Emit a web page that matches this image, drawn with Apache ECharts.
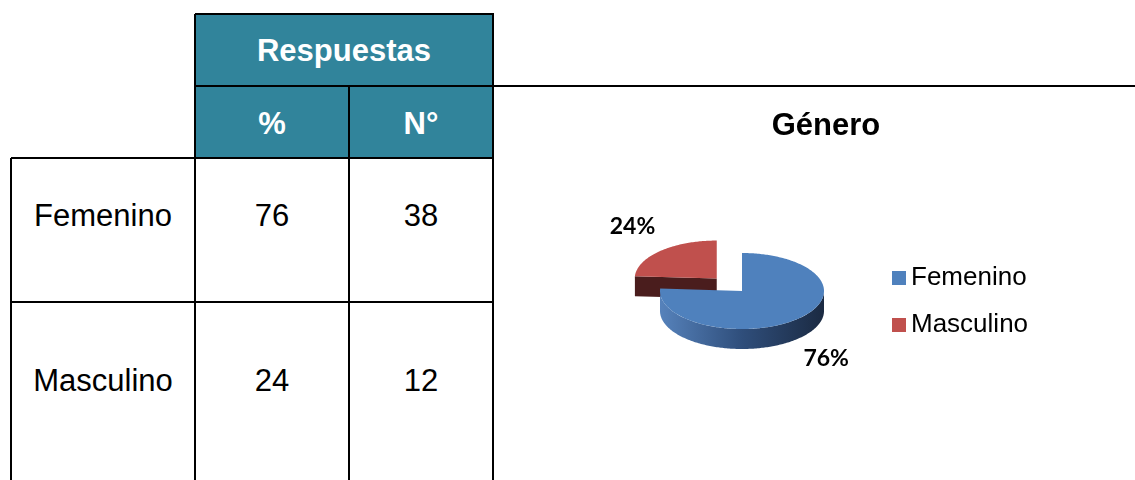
<!DOCTYPE html>
<html><head><meta charset="utf-8">
<script src="https://cdn.jsdelivr.net/npm/echarts@6/dist/echarts.min.js"></script>
<style>
html,body{margin:0;padding:0;background:#fff;width:1135px;height:480px;overflow:hidden;font-family:'Liberation Sans',Arial,sans-serif;}
#table{position:absolute;left:0;top:0;width:1135px;height:480px;}
#chart{position:absolute;left:0;top:0;width:1135px;height:480px;}
.ln{position:absolute;background:#000;}
.fill{position:absolute;background:#31849B;}
.tx{position:absolute;display:flex;align-items:center;justify-content:center;line-height:1;white-space:nowrap;font-size:31px;color:#000;}
.hd{color:#fff;font-weight:bold;}
</style></head><body>
<div id="table"></div><div id="chart"></div>
<script>
// ---- data ----
const categories = ['Femenino', 'Masculino'];
const percentValues = [76, 24];
const countValues = [38, 12];
const headerGroup = 'Respuestas';
const headerCols = ['%', 'N°'];
const chartTitle = 'Género';

// ---- table layout ----
const tbl = document.getElementById('table');
function line(x1, y1, x2, y2) {
  const d = document.createElement('div');
  d.className = 'ln';
  if (y1 === y2) { d.style.left = x1 + 'px'; d.style.top = (y1 - 1) + 'px'; d.style.width = (x2 - x1 + 1) + 'px'; d.style.height = '2px'; }
  else { d.style.left = (x1 - 1) + 'px'; d.style.top = y1 + 'px'; d.style.width = '2px'; d.style.height = (y2 - y1) + 'px'; }
  tbl.appendChild(d);
}
function box(cls, x1, y1, x2, y2, text) {
  const d = document.createElement('div');
  d.className = cls;
  d.style.left = x1 + 'px'; d.style.top = y1 + 'px';
  d.style.width = (x2 - x1) + 'px'; d.style.height = (y2 - y1) + 'px';
  if (text !== undefined) d.textContent = text;
  tbl.appendChild(d);
  return d;
}
const colX = [11, 195, 349, 493];
const hY = [14, 86, 158];
box('fill', colX[1], hY[0], colX[3], hY[2]);
// header texts
box('tx hd', colX[1], 30, colX[3], 70, headerGroup);
headerCols.forEach((t, i) => box('tx hd', colX[1 + i], 103, colX[2 + i], 143, t));
// body rows
const rowTextY = [215, 380];
categories.forEach((c, r) => {
  const yc = rowTextY[r];
  box('tx', colX[0], yc - 20, colX[1], yc + 20, c);
  box('tx', colX[1], yc - 20, colX[2], yc + 20, String(percentValues[r]));
  box('tx', colX[2], yc - 20, colX[3], yc + 20, String(countValues[r]));
});
// borders
line(colX[1], hY[0], colX[3], hY[0]);
line(colX[1], hY[1], 1135, hY[1]);
line(colX[0], hY[2], colX[3], hY[2]);
line(colX[0], 302, colX[3], 302);
line(colX[1], hY[0], colX[1], 480);
line(colX[3], hY[0], colX[3], 480);
line(colX[2], hY[1], colX[2], 480);
line(colX[0], hY[2], colX[0], 480);

// ---- pie chart (3D look) ----
const PIE = { cx: 742, cy: 291, rx: 82, ry: 38, depth: 20, explode: [0, 0.45], labelF: 1.5 };
const TOP_COLORS = ['#4F81BD', '#C0504D'];
const SIDE_STOPS = [['#5682bb', '#2f4e7b', '#1b2a42'], ['#5a2626', '#4a1d1d', '#3d1717']];
const total = percentValues.reduce((a, b) => a + b, 0);
const starts = []; { let acc = 0; percentValues.forEach(v => { starts.push(acc); acc += v; }); }
const RAD = Math.PI / 180;

function renderSlice(si) {
  return function (params, api) {
    const v = api.value(0);
    const a0 = 90 - starts[si] / total * 360;
    const a1 = a0 - v / total * 360;
    const mid = (a0 + a1) / 2 * RAD;
    const ex = PIE.explode[si];
    const ax = PIE.cx + ex * PIE.rx * Math.cos(mid);
    const ay = PIE.cy - ex * PIE.ry * Math.sin(mid);
    const P = (a, d) => [ax + PIE.rx * Math.cos(a * RAD), ay - PIE.ry * Math.sin(a * RAD) + (d || 0)];
    const sampl = (hi, lo) => { const n = Math.max(2, Math.ceil(hi - lo)); const r = []; for (let i = 0; i <= n; i++) r.push(hi - (hi - lo) * i / n); return r; };
    const zb = si === 0 ? 10 : 0;
    const st = SIDE_STOPS[si];
    const grad = () => new echarts.graphic.LinearGradient(0, 0, 1, 0, [
      { offset: 0, color: st[0] }, { offset: 0.5, color: st[1] }, { offset: 1, color: st[2] }]);
    const children = [];
    // outer rim side (front half)
    for (let k = -2; k <= 2; k++) {
      const L = -180 + 360 * k, H = 360 * k;
      const lo = Math.max(L, a1), hi = Math.min(H, a0);
      if (hi - lo > 0.01) {
        const angs = sampl(hi, lo);
        const pts = angs.map(a => P(a, 0)).concat(angs.slice().reverse().map(a => P(a, PIE.depth)));
        children.push({ type: 'polygon', shape: { points: pts }, style: { fill: grad() }, z2: zb + 1 });
      }
    }
    // radial cut faces
    const face = a => ({ type: 'polygon', shape: { points: [[ax, ay], P(a, 0), P(a, PIE.depth), [ax, ay + PIE.depth]] }, style: { fill: st[1] }, z2: zb + 2 });
    if (Math.cos(a0 * RAD) < -1e-6) children.push(face(a0));
    if (Math.cos(a1 * RAD) > 1e-6) children.push(face(a1));
    // top face
    const top = [[ax, ay]].concat(sampl(a0, a1).map(a => P(a, 0)));
    children.push({ type: 'polygon', shape: { points: top }, style: { fill: TOP_COLORS[si] }, z2: zb + 3 });
    // label
    const s = Math.sin(mid), c = Math.cos(mid);
    const lx = ax + PIE.labelF * PIE.rx * c;
    const ly = ay - PIE.labelF * PIE.ry * s + (s < 0 ? PIE.depth + 6 : -10);
    children.push({ type: 'text', x: lx, y: ly, z2: zb + 4, style: {
      text: Math.round(v / total * 100) + '%', fill: '#000', fontSize: 23, fontWeight: 'bold',
      fontFamily: 'Lato, "Open Sans", sans-serif', align: 'center', verticalAlign: 'middle' } });
    return { type: 'group', children };
  };
}

const chart = echarts.init(document.getElementById('chart'), null, { renderer: 'canvas' });
chart.setOption({
  animation: false,
  backgroundColor: 'transparent',
  title: {
    text: chartTitle, left: 826, top: 111, padding: 0, textAlign: 'center',
    textStyle: { fontSize: 31, fontWeight: 'bold', color: '#000', fontFamily: '"Liberation Sans", Arial, sans-serif' }
  },
  legend: {
    orient: 'vertical', left: 892, top: 265, padding: 0, itemWidth: 14, itemHeight: 14, itemGap: 21,
    icon: 'rect', selectedMode: false, data: categories,
    textStyle: { fontSize: 26, color: '#000', fontFamily: '"Liberation Sans", Arial, sans-serif' }
  },
  series: categories.map((name, si) => ({
    type: 'custom', name, coordinateSystem: 'none', silent: true,
    z: si === 0 ? 3 : 2,
    itemStyle: { color: TOP_COLORS[si] },
    data: [percentValues[si]],
    renderItem: renderSlice(si)
  }))
});
</script>
</body></html>
